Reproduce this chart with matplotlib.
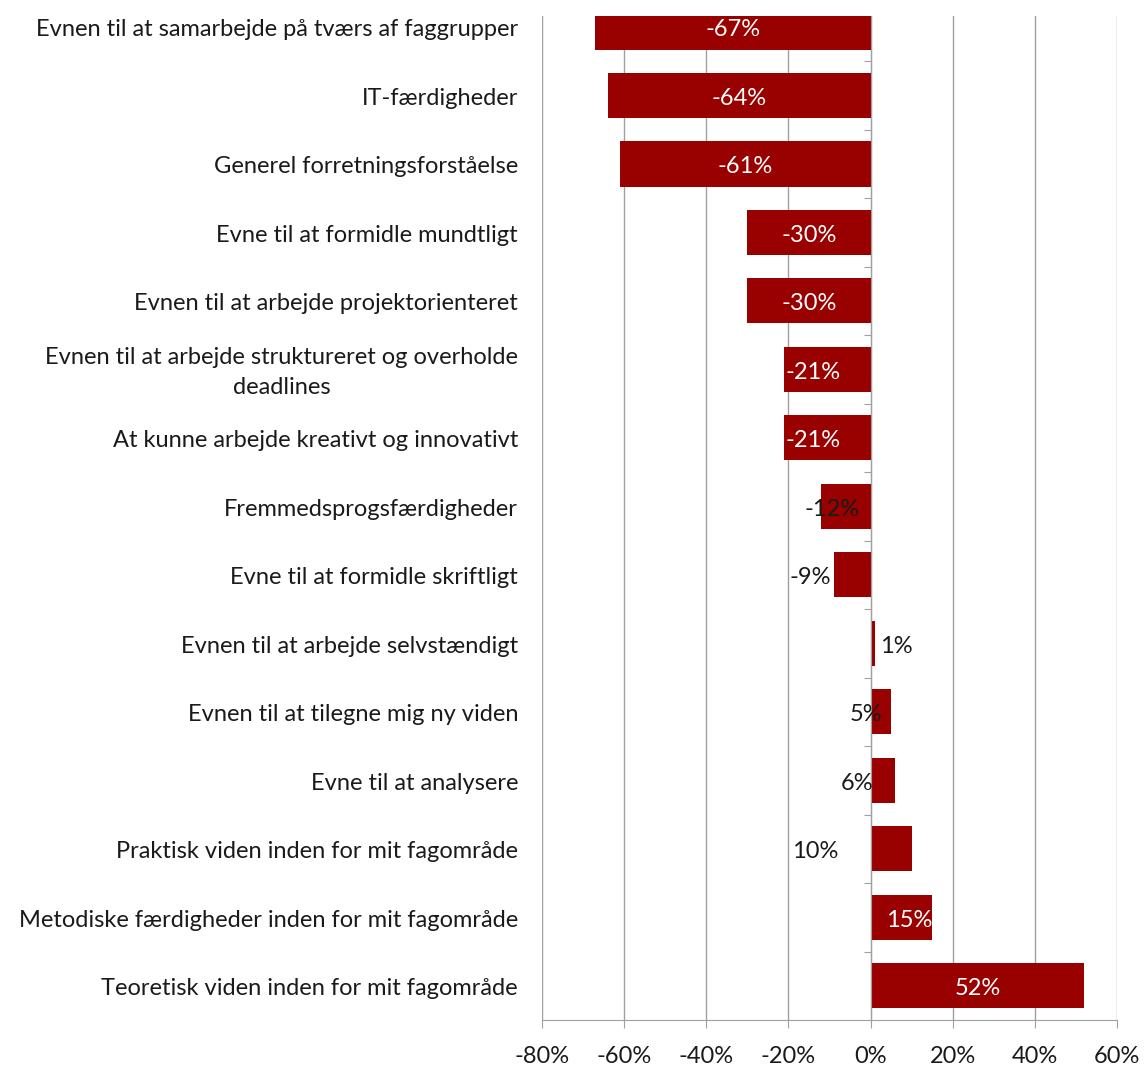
import numpy as np
import matplotlib
matplotlib.use("Agg")
import matplotlib.pyplot as plt
from matplotlib.ticker import FixedLocator

plt.rcParams['font.family'] = ['Lato', 'DejaVu Sans']

# survey items, top to bottom
categories = [
    "Evnen til at samarbejde på tværs af faggrupper",
    "IT-færdigheder",
    "Generel forretningsforståelse",
    "Evne til at formidle mundtligt",
    "Evnen til at arbejde projektorienteret",
    "Evnen til at arbejde struktureret og overholde\ndeadlines",
    "At kunne arbejde kreativt og innovativt",
    "Fremmedsprogsfærdigheder",
    "Evne til at formidle skriftligt",
    "Evnen til at arbejde selvstændigt",
    "Evnen til at tilegne mig ny viden",
    "Evne til at analysere",
    "Praktisk viden inden for mit fagområde",
    "Metodiske færdigheder inden for mit fagområde",
    "Teoretisk viden inden for mit fagområde",
]
values = [-67, -64, -61, -30, -30, -21, -21, -12, -9, 1, 5, 6, 10, 15, 52]

# where each value label sits (None = middle of the bar) and its colour
label_x = [None, None, None, None, None, -14.1, -14.1, -9.5, -14.6, 6.3, -1.0, -3.2, -13.4, 9.5, None]
label_white = [True] * 7 + [False] * 6 + [True] * 2

bar_color = "#990000"
grid_color = "#a0a0a0"
text_color = "#1a1a1a"
fs = 17

fig = plt.figure(figsize=(11.44, 10.73), dpi=100)
ax = fig.add_axes([0.4738, 0.0494, 0.9764 - 0.4738, 0.9851 - 0.0494])

n = len(categories)
ypos = np.arange(n)[::-1]
ax.barh(ypos, values, height=0.66, color=bar_color, zorder=3)

ax.set_xlim(-80, 60)
ax.set_ylim(-0.5, n - 1 + 0.16)
ax.set_xticks(np.arange(-80, 61, 20))
ax.set_xticklabels([f"{t}%" for t in range(-80, 61, 20)])
ax.grid(axis='x', color=grid_color, linewidth=1.0, zorder=0)
ax.grid(axis='y', visible=False)

for s in ['top', 'right']:
    ax.spines[s].set_visible(False)
ax.spines['bottom'].set_color(grid_color)
ax.spines['left'].set_color(grid_color)
ax.spines['left'].set_position(('data', 0))
ax.spines['left'].set_zorder(4)

ax.tick_params(axis='x', direction='out', length=6, color=grid_color,
               labelsize=fs, labelcolor=text_color, pad=13)
ax.yaxis.set_major_locator(FixedLocator(np.arange(n - 1) + 0.5))
ax.tick_params(axis='y', direction='out', length=5, color=grid_color, labelleft=False)

# category labels right-aligned against the plot's left edge
for y, cat in zip(ypos, categories):
    ax.annotate(cat, xy=(0, y), xycoords=('axes fraction', 'data'),
                xytext=(-24, -3), textcoords='offset pixels',
                ha='right', va='center', multialignment='center',
                fontsize=fs, color=text_color, linespacing=1.55)

for y, v, lx, white in zip(ypos, values, label_x, label_white):
    x = v / 2 if lx is None else lx
    ax.annotate(f"{v}%", xy=(x, y), xytext=(0, -3), textcoords='offset pixels',
                ha='center', va='center', fontsize=fs,
                color='white' if white else text_color, zorder=5,
                annotation_clip=False)

fig.savefig("out.png", dpi=100, facecolor='white')
